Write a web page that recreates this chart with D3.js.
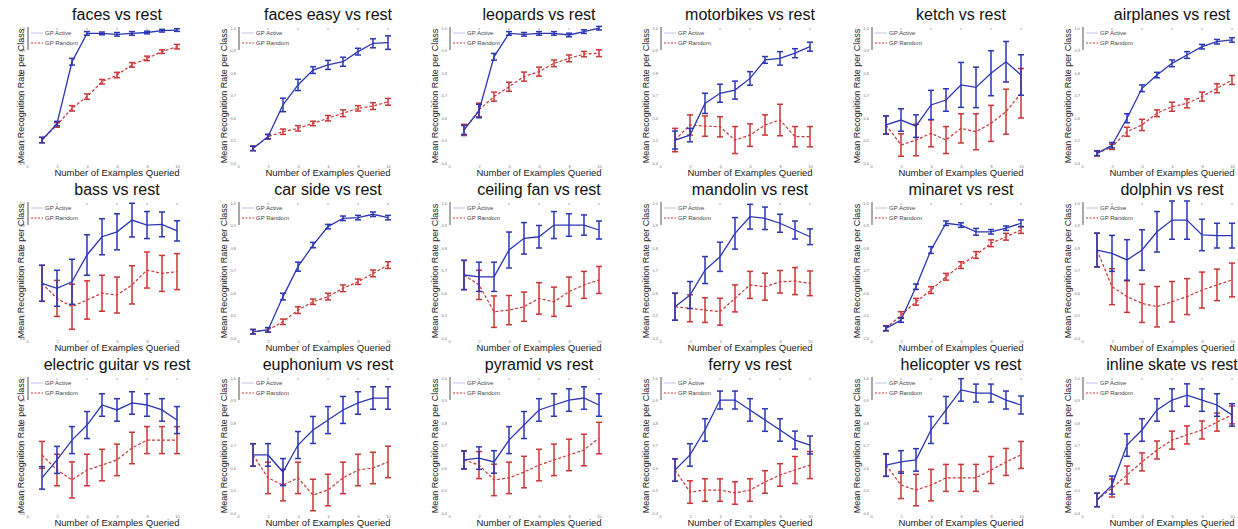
<!DOCTYPE html>
<html>
<head>
<meta charset="utf-8">
<script src="https://cdn.jsdelivr.net/npm/d3@7"></script>
<style>
  html, body { margin: 0; padding: 0; background: #fff; }
  svg { display: block; font-family: "Liberation Sans", Arial, sans-serif; }
</style>
</head>
<body>
<svg id="chart" width="1238" height="529"></svg>
<script>
// ---------------- data ----------------
const titles = [
  "faces vs rest", "faces easy vs rest", "leopards vs rest", "motorbikes vs rest", "ketch vs rest", "airplanes vs rest",
  "bass vs rest", "car side vs rest", "ceiling fan vs rest", "mandolin vs rest", "minaret vs rest", "dolphin vs rest",
  "electric guitar vs rest", "euphonium vs rest", "pyramid vs rest", "ferry vs rest", "helicopter vs rest", "inline skate vs rest"
];
const examples = [1, 2, 3, 4, 5, 6, 7, 8, 9, 10];
const xTicks = [0, 2, 4, 6, 8, 10];
const yTicks = [0.4, 0.5, 0.6, 0.7, 0.8, 0.9, 1.0];
const legendLabels = ["GP Active", "GP Random"];

const activeMean = [
  [.502, .575, .850, .976, .976, .972, .976, .980, .988, .991],
  [.465, .517, .658, .747, .813, .836, .850, .895, .932, .935],
  [.547, .631, .872, .976, .972, .976, .976, .969, .984, .999],
  [.502, .524, .665, .710, .724, .776, .858, .865, .888, .917],
  [.569, .591, .564, .658, .680, .747, .736, .799, .850, .791],
  [.443, .479, .599, .732, .791, .843, .880, .917, .939, .947],
  [.643, .621, .650, .769, .850, .872, .924, .902, .905, .876],
  [.428, .436, .584, .717, .813, .895, .932, .935, .950, .935],
  [.680, .672, .672, .791, .843, .850, .902, .902, .902, .880],
  [.539, .591, .702, .761, .865, .939, .932, .910, .880, .850],
  [.443, .480, .628, .791, .910, .902, .872, .872, .888, .910],
  [.791, .776, .747, .791, .872, .924, .924, .858, .855, .855],
  [.556, .636, .724, .791, .880, .858, .889, .880, .858, .813],
  [.658, .658, .582, .702, .769, .813, .858, .889, .911, .911],
  [.636, .644, .627, .724, .791, .858, .880, .902, .911, .880],
  [.591, .658, .769, .902, .902, .858, .813, .769, .724, .702],
  [.613, .627, .636, .769, .858, .947, .933, .933, .902, .880],
  [.458, .524, .702, .769, .858, .902, .924, .902, .880, .836]
];
const activeErr = [
  [.012, .010, .015, .008, .006, .008, .008, .006, .006, .006],
  [.010, .010, .030, .025, .015, .020, .020, .015, .020, .030],
  [.020, .030, .015, .008, .008, .008, .008, .008, .008, .008],
  [.040, .030, .045, .040, .040, .030, .015, .030, .020, .020],
  [.040, .050, .050, .065, .050, .100, .090, .100, .090, .090],
  [.010, .012, .020, .015, .012, .015, .015, .010, .010, .010],
  [.080, .080, .100, .090, .080, .080, .075, .060, .055, .045],
  [.010, .010, .015, .020, .012, .010, .010, .010, .010, .010],
  [.065, .065, .065, .080, .070, .050, .060, .050, .045, .040],
  [.060, .060, .060, .065, .070, .055, .050, .040, .040, .035],
  [.010, .010, .012, .015, .010, .010, .015, .010, .010, .015],
  [.075, .080, .090, .090, .090, .085, .085, .070, .055, .055],
  [.050, .060, .060, .060, .050, .050, .050, .050, .050, .060],
  [.050, .050, .060, .060, .060, .060, .060, .050, .050, .050],
  [.040, .050, .050, .060, .060, .050, .050, .050, .050, .050],
  [.050, .050, .050, .040, .040, .050, .050, .050, .040, .040],
  [.050, .050, .050, .060, .060, .050, .040, .040, .040, .040],
  [.030, .040, .050, .050, .050, .050, .050, .050, .050, .050]
];
const randomMean = [
  [.502, .569, .643, .695, .761, .791, .836, .865, .895, .917],
  [.465, .517, .539, .554, .576, .599, .621, .643, .653, .672],
  [.547, .636, .695, .739, .784, .806, .843, .865, .884, .888],
  [.502, .569, .564, .561, .502, .524, .569, .591, .517, .517],
  [.569, .480, .502, .532, .502, .554, .539, .576, .628, .710],
  [.443, .472, .539, .569, .621, .650, .665, .695, .732, .769],
  [.643, .576, .539, .569, .599, .591, .636, .702, .687, .695],
  [.428, .436, .472, .524, .561, .584, .621, .650, .687, .724],
  [.680, .636, .517, .524, .539, .576, .561, .606, .636, .658],
  [.539, .532, .524, .517, .576, .636, .628, .650, .653, .643],
  [.443, .502, .561, .613, .672, .724, .769, .821, .850, .880],
  [.791, .628, .584, .554, .539, .561, .584, .613, .636, .658],
  [.658, .591, .547, .591, .613, .636, .689, .724, .724, .724],
  [.658, .556, .524, .556, .480, .502, .556, .591, .600, .627],
  [.636, .613, .547, .556, .582, .613, .636, .658, .680, .733],
  [.591, .493, .502, .502, .489, .502, .538, .569, .591, .613],
  [.613, .524, .502, .524, .556, .556, .556, .591, .627, .658],
  [.458, .511, .569, .627, .680, .724, .747, .769, .804, .836]
];
const randomErr = [
  [.012, .010, .012, .012, .010, .012, .010, .010, .008, .010],
  [.010, .010, .012, .012, .010, .012, .015, .012, .015, .015],
  [.025, .030, .020, .020, .020, .020, .015, .015, .012, .015],
  [.052, .045, .045, .045, .060, .050, .045, .070, .045, .045],
  [.040, .050, .070, .060, .060, .065, .080, .080, .100, .110],
  [.012, .012, .020, .025, .015, .020, .020, .020, .020, .020],
  [.080, .080, .100, .085, .080, .080, .085, .080, .080, .080],
  [.010, .010, .012, .015, .012, .015, .015, .012, .015, .015],
  [.065, .065, .070, .065, .065, .070, .065, .065, .060, .060],
  [.060, .060, .055, .060, .060, .060, .060, .050, .060, .055],
  [.012, .015, .015, .015, .015, .015, .015, .015, .015, .015],
  [.075, .080, .070, .085, .090, .090, .080, .080, .070, .075],
  [.060, .070, .080, .070, .070, .070, .070, .060, .060, .060],
  [.050, .070, .070, .070, .070, .070, .070, .070, .070, .070],
  [.040, .060, .070, .070, .070, .070, .070, .070, .070, .070],
  [.050, .050, .050, .050, .050, .050, .050, .050, .060, .060],
  [.050, .060, .070, .070, .060, .060, .060, .060, .060, .060],
  [.030, .040, .040, .040, .040, .040, .040, .040, .040, .040]
];

// ---------------- drawing ----------------
const svg = d3.select("#chart");
svg.append("rect").attr("width", 1238).attr("height", 529).attr("fill", "#fff");

const BLUE = "#2b36b4";
const RED = "#cc3535";
const colW = 211, rowH = 175;

titles.forEach((title, k) => {
  const r = Math.floor(k / 6), c = k % 6;
  const x0 = 42 + colW * c;
  const oy = rowH * r;
  const x = d3.scaleLinear().domain([0, 10]).range([x0 - 15, x0 + 135]);
  const y = d3.scaleLinear().domain([0.4, 1.0]).range([163 + oy, 28 + oy]);
  const g = svg.append("g");

  // axes (tiny tick labels, no lines as in reference)
  const ax = g.append("g").attr("transform", `translate(0,${163 + oy})`)
    .call(d3.axisBottom(x).tickValues(xTicks).tickSize(0).tickPadding(2).tickFormat(d3.format("d")));
  const ay = g.append("g").attr("transform", `translate(${x0 - 15},0)`)
    .call(d3.axisLeft(y).tickValues(yTicks).tickSize(0).tickPadding(2).tickFormat(d3.format(".1f")));
  [ax, ay].forEach(a => {
    a.select(".domain").remove();
    a.selectAll("text").attr("font-size", 4).attr("fill", "#777");
  });
  // small top tick marks
  g.append("g").selectAll("line").data(xTicks.slice(1)).join("line")
    .attr("x1", d => x(d)).attr("x2", d => x(d))
    .attr("y1", 28 + oy).attr("y2", 30 + oy)
    .attr("stroke", "#aaa").attr("stroke-width", 1);

  const series = [
    { mean: randomMean[k], err: randomErr[k], color: RED, dash: "3,2", lw: 1.2 },
    { mean: activeMean[k], err: activeErr[k], color: BLUE, dash: null, lw: 1.3 }
  ];
  series.forEach(s => {
    const pts = examples.map((e, i) => ({ e, m: s.mean[i], d: s.err[i] }));
    g.append("path").datum(pts)
      .attr("fill", "none").attr("stroke", s.color).attr("stroke-width", s.lw)
      .attr("stroke-dasharray", s.dash)
      .attr("d", d3.line().x(p => x(p.e)).y(p => y(p.m)));
    const eb = g.append("g").attr("stroke", s.color).attr("stroke-width", 1.5);
    eb.selectAll("line.v").data(pts).join("line").attr("class", "v")
      .attr("x1", p => x(p.e)).attr("x2", p => x(p.e))
      .attr("y1", p => y(p.m - p.d)).attr("y2", p => y(p.m + p.d));
    eb.selectAll("line.t").data(pts).join("line").attr("class", "t")
      .attr("x1", p => x(p.e) - 3).attr("x2", p => x(p.e) + 3)
      .attr("y1", p => y(p.m + p.d)).attr("y2", p => y(p.m + p.d));
    eb.selectAll("line.b").data(pts).join("line").attr("class", "b")
      .attr("x1", p => x(p.e) - 3).attr("x2", p => x(p.e) + 3)
      .attr("y1", p => y(p.m - p.d)).attr("y2", p => y(p.m - p.d));
  });

  // legend
  g.append("line").attr("x1", x0 - 14).attr("x2", x0 - 14)
    .attr("y1", 27 + oy).attr("y2", 50 + oy).attr("stroke", "#555").attr("stroke-width", 1);
  g.append("line").attr("x1", x0 - 11).attr("x2", x0 + 1)
    .attr("y1", 33 + oy).attr("y2", 33 + oy).attr("stroke", BLUE).attr("stroke-width", 0.6).attr("opacity", 0.5);
  g.append("line").attr("x1", x0 - 11).attr("x2", x0 + 1)
    .attr("y1", 43 + oy).attr("y2", 43 + oy).attr("stroke", RED).attr("stroke-width", 1)
    .attr("stroke-dasharray", "2,1.5");
  legendLabels.forEach((t, i) => {
    g.append("text").attr("x", x0 + 3).attr("y", 35 + 10 * i + oy)
      .attr("font-size", 6).attr("fill", "#444").text(t);
  });

  // title & labels
  g.append("text").attr("x", x0 + 75).attr("y", 20 + oy).attr("text-anchor", "middle")
    .attr("font-size", 16).attr("fill", "#111").text(title);
  g.append("text").attr("x", x0 + 75).attr("y", 176 + oy).attr("text-anchor", "middle")
    .attr("font-size", 9.5).attr("fill", "#222").text("Number of Examples Queried");
  const ylx = c === 0 ? x0 - 18 : x0 - 26;
  g.append("text").attr("transform", `translate(${ylx},${96 + oy}) rotate(-90)`)
    .attr("text-anchor", "middle").attr("font-size", 9).attr("fill", "#222")
    .text("Mean Recognition Rate per Class");
});
</script>
</body>
</html>
